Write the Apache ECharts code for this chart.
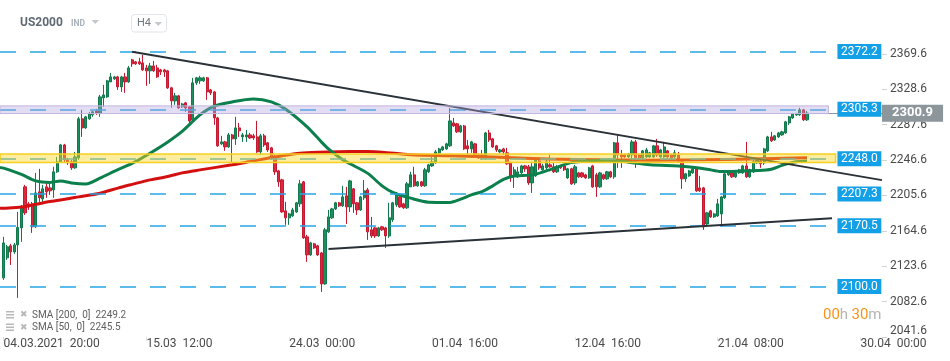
<!DOCTYPE html>
<html><head><meta charset="utf-8">
<script src="https://cdn.jsdelivr.net/npm/echarts@6/dist/echarts.min.js"></script>
<style>html,body{margin:0;padding:0;background:#fff}#c{width:950px;height:361px}</style>
</head><body><div id="c"></div>
<script>
// ---------- data ----------
const timeLabels = ['04.03.2021  20:00','15.03  12:00','24.03  00:00','01.04  16:00','12.04  16:00','21.04  08:00','30.04  00:00'];
const timeLabelIdx = [1,41,81,121,161,201,241];
const slotCount = 248;
const yTicks = [2041.6,2082.6,2123.6,2164.6,2205.6,2246.6,2287.6,2328.6,2369.6];
const yMin = 2041.6, yMax = 2397.2;
const levels = [2372.2,2305.3,2248.0,2207.3,2170.5,2100.0];
const levelEndIdx = 232;
const purpleZone = [2309.3,2300.4];
const yellowZone = [2253.6,2243.6];
const trendUpper = [[37,2372.0],[247,2223.3]];
const trendLower = [[92,2143.4],[233,2179.2]];
const lastPrice = 2300.9;
const sma200Last = 2249.2, sma50Last = 2245.5;

const opens = [null,
2110.1,2133.3,2147.2,2140.2,2148.3,2168.0,2215.5,2195.8,2195.8,2169.2,
2209.7,2201.6,2215.5,2214.3,2212.0,2232.9,2244.5,2264.1,2246.8,2244.5,
2237.5,2249.1,2294.3,2283.8,2294.3,2298.9,2303.5,2301.2,2318.6,2319.7,
2337.1,2340.6,2342.9,2331.3,2342.9,2337.1,2362.6,2360.3,2360.3,2359.1,
2353.3,2349.9,2355.6,2353.3,2351.0,2351.0,2349.9,2330.2,2315.1,2320.9,
2308.2,2312.8,2308.2,2293.1,2336.0,2338.3,2338.3,2341.8,2327.8,2325.5,
2295.4,2265.3,2267.6,2261.8,2275.7,2271.1,2283.8,2273.4,2273.4,2275.7,
2274.6,2273.4,2256.0,2274.6,2266.5,2260.7,2249.1,2234.0,2223.6,2187.7,
2179.6,2181.9,2186.5,2195.8,2221.3,2157.6,2136.7,2149.5,2147.2,2139.0,
2103.1,2163.4,2179.6,2190.0,2197.0,2193.5,2205.1,2192.3,2213.2,2197.0,
2188.8,2202.8,2212.0,2165.7,2168.0,2158.7,2169.2,2168.0,2158.7,2177.3,
2194.6,2203.9,2195.8,2191.2,2215.5,2229.4,2216.7,2221.3,2216.7,2232.9,
2239.8,2243.3,2254.9,2258.3,2259.5,2263.0,2289.6,2288.5,2279.2,2286.1,
2263.0,2259.5,2265.3,2252.5,2252.5,2249.1,2278.0,2271.1,2263.0,2256.0,
2259.5,2254.9,2243.3,2228.2,2227.1,2231.7,2239.8,2238.7,2220.1,2228.2,
2245.6,2235.2,2237.5,2241.0,2238.7,2232.9,2239.8,2239.8,2225.9,2236.4,
2220.1,2231.7,2231.7,2229.4,2225.9,2239.8,2229.4,2215.5,2229.4,2224.8,
2232.9,2227.1,2266.5,2252.5,2252.5,2250.2,2252.5,2267.6,2252.5,2249.1,
2250.2,2250.2,2250.2,2263.0,2250.2,2250.2,2257.2,2252.5,2250.2,2252.5,
2244.5,2224.8,2228.2,2231.7,2236.4,2214.3,2214.3,2172.6,2187.7,2180.7,
2181.9,2184.2,2202.8,2229.4,2231.7,2227.1,2231.7,2231.7,2239.8,2227.1,
2232.9,2243.3,2245.6,2243.3,2257.2,2273.4,2269.9,2273.4,2275.7,2278.0,
2289.6,2295.4,2298.9,2298.9,2304.7,2293.1];

const closes = [null,
2150.6,2146.0,2140.2,2148.3,2168.5,2191.2,2185.4,2192.3,2169.2,2208.5,
2202.8,2213.2,2209.7,2210.9,2232.9,2244.5,2264.1,2246.8,2243.3,2237.5,
2250.2,2294.3,2283.8,2296.6,2300.1,2302.4,2301.2,2319.7,2322.0,2338.3,
2342.9,2342.9,2331.3,2342.9,2337.1,2353.3,2358.0,2358.0,2358.0,2351.0,
2349.9,2355.6,2349.9,2342.9,2348.7,2348.7,2330.2,2315.1,2320.9,2307.0,
2311.6,2307.0,2291.9,2336.0,2341.8,2341.8,2341.8,2325.5,2324.4,2295.4,
2263.0,2267.6,2261.8,2275.7,2271.1,2283.8,2280.4,2275.7,2275.7,2272.2,
2272.2,2256.0,2274.6,2264.1,2258.3,2249.1,2232.9,2221.3,2186.5,2179.6,
2184.2,2188.8,2197.0,2219.0,2156.4,2136.7,2150.6,2144.8,2136.7,2103.1,
2165.7,2180.7,2190.0,2197.0,2193.5,2203.9,2192.3,2222.4,2195.8,2188.8,
2203.9,2210.9,2163.4,2158.7,2158.7,2168.0,2165.7,2158.7,2179.6,2197.0,
2206.2,2192.3,2191.2,2219.0,2229.4,2216.7,2221.3,2216.7,2235.2,2241.0,
2244.5,2256.0,2259.5,2261.8,2265.3,2291.9,2286.1,2279.2,2286.1,2259.5,
2259.5,2267.6,2250.2,2249.1,2249.1,2278.0,2269.9,2261.8,2258.3,2258.3,
2256.0,2242.2,2228.2,2235.2,2232.9,2239.8,2236.4,2220.1,2238.7,2247.9,
2237.5,2239.8,2244.5,2238.7,2232.9,2238.7,2237.5,2235.2,2236.4,2219.0,
2238.7,2227.1,2227.1,2225.9,2237.5,2215.5,2215.5,2231.7,2224.8,2232.9,
2227.1,2266.5,2252.5,2250.2,2250.2,2253.7,2267.6,2249.1,2249.1,2257.2,
2258.3,2254.9,2263.0,2252.5,2258.3,2261.8,2250.2,2249.1,2254.9,2245.6,
2224.8,2230.6,2234.0,2236.4,2210.9,2210.9,2169.2,2185.4,2180.7,2184.2,
2195.8,2203.9,2230.6,2232.9,2227.1,2231.7,2235.2,2239.8,2227.1,2235.2,
2244.5,2246.8,2242.2,2259.5,2273.4,2268.8,2274.6,2278.0,2279.2,2290.8,
2296.6,2300.1,2300.1,2304.7,2293.1,2300.9];

const lows = [null,
2107.8,2130.9,2125.1,2137.9,2086.9,2151.8,2183.0,2188.8,2162.2,2168.0,
2198.1,2198.1,2202.8,2206.2,2202.8,2231.7,2243.3,2243.3,2241.0,2235.2,
2236.4,2246.8,2273.4,2282.7,2293.1,2296.6,2298.9,2296.6,2308.2,2318.6,
2337.1,2339.4,2327.8,2325.5,2324.4,2336.0,2354.5,2356.8,2356.8,2349.9,
2332.5,2334.8,2348.7,2341.8,2345.2,2342.9,2329.0,2307.0,2310.5,2305.8,
2307.0,2302.4,2288.5,2290.8,2333.6,2334.8,2337.0,2316.3,2322.0,2287.3,
2261.8,2264.1,2257.2,2260.7,2243.3,2264.1,2273.4,2267.6,2267.6,2271.1,
2269.9,2254.9,2252.5,2261.8,2256.0,2246.8,2229.4,2215.5,2185.4,2171.5,
2171.5,2180.7,2185.4,2192.3,2155.3,2128.6,2135.6,2143.7,2135.6,2093.9,
2102.0,2162.2,2178.4,2188.8,2192.3,2192.3,2172.6,2186.5,2185.4,2183.0,
2187.7,2200.4,2154.1,2156.4,2156.4,2157.6,2164.5,2144.8,2156.4,2175.0,
2192.3,2191.2,2190.0,2190.0,2215.5,2215.5,2215.5,2215.5,2215.5,2231.7,
2238.7,2242.2,2253.7,2257.2,2258.3,2261.8,2285.0,2278.0,2278.0,2258.3,
2252.5,2254.9,2249.1,2248.0,2246.8,2246.8,2267.6,2260.7,2256.0,2254.9,
2252.5,2241.0,2221.3,2214.3,2225.9,2230.6,2232.9,2217.8,2208.5,2227.1,
2235.2,2232.9,2235.2,2237.5,2231.7,2231.7,2236.4,2234.0,2224.8,2217.8,
2217.8,2225.9,2225.9,2224.8,2224.8,2214.3,2203.9,2214.3,2223.6,2223.6,
2225.9,2224.8,2237.5,2237.5,2249.1,2249.1,2243.3,2237.5,2248.0,2246.8,
2249.1,2249.1,2249.1,2250.2,2249.1,2249.1,2249.1,2248.0,2249.1,2244.5,
2213.2,2221.3,2227.1,2230.6,2209.7,2209.7,2165.7,2169.2,2179.6,2179.6,
2180.7,2169.2,2201.6,2228.2,2225.9,2225.9,2230.6,2230.6,2225.9,2225.9,
2231.7,2242.2,2237.5,2241.0,2256.0,2267.6,2268.8,2272.2,2274.6,2276.9,
2287.3,2294.3,2297.7,2297.7,2291.9,2291.9];

const highs = [null,
2157.6,2148.3,2149.5,2150.6,2186.5,2194.6,2217.8,2198.1,2198.1,2231.7,
2236.4,2217.8,2221.3,2221.3,2238.7,2250.2,2265.3,2265.3,2249.1,2246.8,
2256.0,2296.6,2304.7,2297.7,2302.4,2303.5,2305.8,2322.0,2333.6,2339.4,
2347.5,2344.1,2344.1,2344.1,2347.5,2355.6,2363.8,2361.4,2364.9,2368.4,
2356.8,2359.1,2361.4,2356.8,2352.2,2352.2,2351.0,2331.3,2324.4,2322.0,
2312.8,2313.9,2309.3,2341.8,2342.9,2344.1,2343.0,2342.9,2329.0,2326.7,
2296.6,2274.6,2268.8,2278.0,2276.9,2296.6,2289.6,2278.0,2281.5,2278.0,
2276.9,2291.9,2276.9,2276.9,2267.6,2261.8,2252.5,2235.2,2224.8,2198.1,
2185.4,2191.2,2198.1,2223.6,2222.4,2159.9,2151.8,2150.6,2148.3,2140.2,
2168.0,2188.8,2191.2,2198.1,2198.1,2216.7,2215.5,2223.6,2214.3,2198.1,
2205.1,2223.6,2214.3,2180.7,2169.2,2169.2,2170.3,2169.2,2197.0,2198.1,
2209.7,2206.2,2197.0,2221.3,2232.9,2238.7,2222.4,2222.4,2237.5,2242.2,
2250.2,2258.3,2260.7,2263.0,2266.5,2307.0,2295.4,2289.6,2287.3,2287.3,
2269.9,2268.8,2266.5,2253.7,2258.3,2279.2,2281.5,2272.2,2264.1,2259.5,
2260.7,2260.7,2244.5,2238.7,2238.7,2241.0,2241.0,2241.0,2244.5,2249.1,
2249.1,2242.2,2246.8,2252.5,2243.3,2241.0,2241.0,2241.0,2237.5,2237.5,
2241.0,2232.9,2232.9,2230.6,2238.7,2241.0,2231.7,2232.9,2230.6,2234.0,
2234.0,2267.6,2275.7,2258.3,2253.7,2254.9,2269.9,2269.9,2253.7,2258.3,
2260.7,2256.0,2264.1,2271.1,2259.5,2267.6,2258.3,2253.7,2258.3,2256.0,
2246.8,2231.7,2235.2,2237.5,2237.5,2228.2,2215.5,2186.5,2188.8,2185.4,
2201.6,2205.1,2231.7,2234.0,2232.9,2232.9,2236.4,2241.0,2267.6,2236.4,
2246.8,2248.0,2246.8,2260.7,2274.6,2279.2,2275.7,2279.2,2280.4,2291.9,
2297.7,2301.2,2301.2,2307.0,2305.8,2303.5];

const sma50Idx = [0,1,6,10,14,17,20,24,28,33,37,42,47,51,56,60,65,71,76,80,86,90,92,96,99,103,107,110,115,120,126,129,132,135,138,141,144,149,153,157,160,164,170,176,182,190,194,198,202,204,208,212,216,219,223,226];
const sma50Val = [2238.1,2237.2,2229.9,2222.4,2220.7,2222.4,2220.1,2218.9,2225.6,2235.5,2242.7,2254.5,2267.6,2279.8,2298.9,2309.0,2313.9,2317.2,2313.9,2305.3,2285.0,2267.6,2259.5,2246.8,2240.2,2231.1,2216.7,2209.1,2202.4,2197.8,2197.5,2201.3,2206.2,2210.0,2216.7,2224.2,2228.2,2229.4,2234.0,2239.8,2243.6,2245.6,2246.4,2244.1,2241.0,2239.8,2238.3,2236.0,2233.2,2233.2,2234.0,2234.4,2236.0,2240.4,2244.5,2245.5];
const sma200Idx = [0,1,6,9,14,19,22,28,33,37,42,47,51,56,65,70,75,79,84,89,93,98,103,107,115,126,140,154,168,182,196,210,226];
const sma200Val = [2190.6,2190.8,2192.1,2194.4,2198.5,2201.7,2203.9,2208.2,2214.1,2218.4,2223.6,2227.5,2231.7,2235.2,2241.0,2244.8,2248.7,2251.6,2254.5,2255.7,2256.0,2256.4,2256.4,2255.7,2252.6,2251.4,2249.7,2247.9,2246.8,2246.4,2246.8,2247.9,2249.2];

// ---------- build ----------
const categories = Array.from({length: slotCount}, (_, i) => String(i));
const labelOf = i => { const k = timeLabelIdx.indexOf(i); return k >= 0 ? timeLabels[k] : ''; };
const candleData = opens.map((o, i) => o == null ? '-' : [o, closes[i], lows[i], highs[i]]);
const sma50Data = sma50Idx.map((j, k) => [j, sma50Val[k]]);
const sma200Data = sma200Idx.map((j, k) => [j, sma200Val[k]]);
const lastIdx = opens.length - 1;

const levelLines = levels.map(v => [{coord: [0, v], name: v.toFixed(1)}, {coord: [levelEndIdx, v]}]);
const trendStyle = {type: 'solid', color: '#2a3137', width: 2};
const trendLines = [trendUpper, trendLower].map(t => [
  {coord: t[0], lineStyle: trendStyle, label: {show: false}}, {coord: t[1]}
]);
const priceLine = [[
  {coord: [lastIdx, lastPrice], name: lastPrice.toFixed(1),
   lineStyle: {type: 'solid', color: '#8d969b', width: 1},
   label: {backgroundColor: '#8d969b', fontSize: 13, fontWeight: 'bold', padding: [2, 10, 1, 10], distance: 0}},
  {coord: [slotCount - 1, lastPrice]}
]];

const chart = echarts.init(document.getElementById('c'), null, {renderer: 'canvas'});
chart.setOption({
  animation: false,
  backgroundColor: '#fff',
  textStyle: {fontFamily: 'Roboto'},
  grid: {left: 0, right: 68, top: 30, bottom: 24},
  xAxis: {
    type: 'category', data: categories, boundaryGap: false,
    axisLine: {show: false}, splitLine: {show: false},
    axisTick: {show: true, interval: (i) => timeLabelIdx.includes(i), length: 4, lineStyle: {color: '#e4e4e4'}},
    axisLabel: {interval: (i) => timeLabelIdx.includes(i), formatter: (v, i) => labelOf(i),
      align: 'left', color: '#4a4a4a', fontSize: 12, margin: 1}
  },
  yAxis: {
    type: 'value', position: 'right', min: yMin, max: yMax,
    axisLine: {show: false}, splitLine: {show: false},
    axisTick: {show: true, length: 5, lineStyle: {color: '#d3d3d3'}, customValues: yTicks},
    axisLabel: {customValues: yTicks, formatter: v => v.toFixed(1), color: '#4a4a4a', fontSize: 12, margin: 8,
      verticalAlignMinLabel: 'bottom'}
  },
  series: [
    {
      type: 'candlestick', name: 'US2000', data: candleData, barWidth: 2.7, z: 2, clip: false,
      itemStyle: {color: '#1b8f5e', color0: '#de2840', borderColor: '#12794c', borderColor0: '#c41a31', borderWidth: 1},
      markLine: {
        z: 4, silent: true, symbol: ['none', 'none'], animation: false,
        lineStyle: {type: [16, 14], color: '#26a5e8', width: 1.5},
        label: {show: true, position: 'end', distance: 9, formatter: p => p.name, color: '#fff',
          backgroundColor: '#13a0e6', fontSize: 12, padding: [1, 3.5, 0, 3.5], lineHeight: 14},
        data: levelLines.concat(trendLines, priceLine)
      }
    },
    {
      type: 'line', name: 'SMA200', data: sma200Data, symbol: 'none', smooth: 0.3, z: 3,
      lineStyle: {color: '#d40f10', width: 3}
    },
    {
      type: 'line', name: 'SMA50', data: sma50Data, symbol: 'none', smooth: 0.3, z: 3,
      lineStyle: {color: '#0b7f4c', width: 3},
      markArea: {
        z: 6, silent: true, label: {show: false},
        data: [
          [{coord: [0, purpleZone[0]], itemStyle: {color: 'rgba(180,165,222,0.38)', borderColor: '#c2b5df', borderWidth: 1}},
           {coord: [levelEndIdx, purpleZone[1]]}],
          [{coord: [0, yellowZone[0]], itemStyle: {color: 'rgba(250,214,40,0.45)', borderColor: '#f6cf1f', borderWidth: 1.5}},
           {coord: [levelEndIdx + 2, yellowZone[1]]}]
        ]
      }
    }
  ],
  graphic: [
    {type: 'text', x: 20, y: 23, style: {text: 'US2000', font: 'bold 12px Roboto', fill: '#5f6a74', verticalAlign: 'middle'}},
    {type: 'text', x: 71, y: 24, style: {text: 'IND', font: 'bold 8.5px Roboto', fill: '#a9b1b9', verticalAlign: 'middle'}},
    {type: 'polygon', shape: {points: [[91.5, 20], [99, 20], [95.2, 24]]}, style: {fill: '#c4c9ce'}},
    {type: 'rect', shape: {x: 131.5, y: 14.5, width: 35, height: 17.5, r: 3}, style: {fill: '#fff', stroke: '#e1e4e8', lineWidth: 1}},
    {type: 'text', x: 137, y: 23.5, style: {text: 'H4', font: '11px Roboto', fill: '#6f7881', verticalAlign: 'middle'}},
    {type: 'polygon', shape: {points: [[154.5, 22], [162, 22], [158.2, 26]]}, style: {fill: '#c4c9ce'}},
    // legend rows
    {type: 'rect', shape: {x: 6, y: 311, width: 8, height: 1.5}, style: {fill: '#b8b8b8'}},
    {type: 'rect', shape: {x: 6, y: 314, width: 8, height: 1.5}, style: {fill: '#b8b8b8'}},
    {type: 'rect', shape: {x: 6, y: 317, width: 8, height: 1.5}, style: {fill: '#b8b8b8'}},
    {type: 'text', x: 20, y: 315, style: {text: '✖', font: '9px DejaVu Sans', fill: '#b8b8b8', verticalAlign: 'middle'}},
    {type: 'text', x: 32, y: 315, style: {text: 'SMA [200,  0]  ' + sma200Last.toFixed(1), font: '10px Roboto', fill: '#606060', verticalAlign: 'middle'}},
    {type: 'rect', shape: {x: 6, y: 323.5, width: 8, height: 1.5}, style: {fill: '#b8b8b8'}},
    {type: 'rect', shape: {x: 6, y: 326.5, width: 8, height: 1.5}, style: {fill: '#b8b8b8'}},
    {type: 'rect', shape: {x: 6, y: 329.5, width: 8, height: 1.5}, style: {fill: '#b8b8b8'}},
    {type: 'text', x: 20, y: 327.5, style: {text: '✖', font: '9px DejaVu Sans', fill: '#b8b8b8', verticalAlign: 'middle'}},
    {type: 'text', x: 32, y: 327.5, style: {text: 'SMA [50,  0]  ' + sma50Last.toFixed(1), font: '10px Roboto', fill: '#606060', verticalAlign: 'middle'}},
    // countdown
    {type: 'text', x: 823, y: 315, style: {
      text: '{o|00}{g|h} {o|30}{g|m}', verticalAlign: 'middle',
      rich: {o: {fontSize: 15, fontFamily: 'Roboto', fill: '#f7941d', color: '#f7941d'}, g: {fontSize: 15, fontFamily: 'Roboto', fill: '#b5b5b5', color: '#b5b5b5'}}
    }}
  ]
});
</script></body></html>
